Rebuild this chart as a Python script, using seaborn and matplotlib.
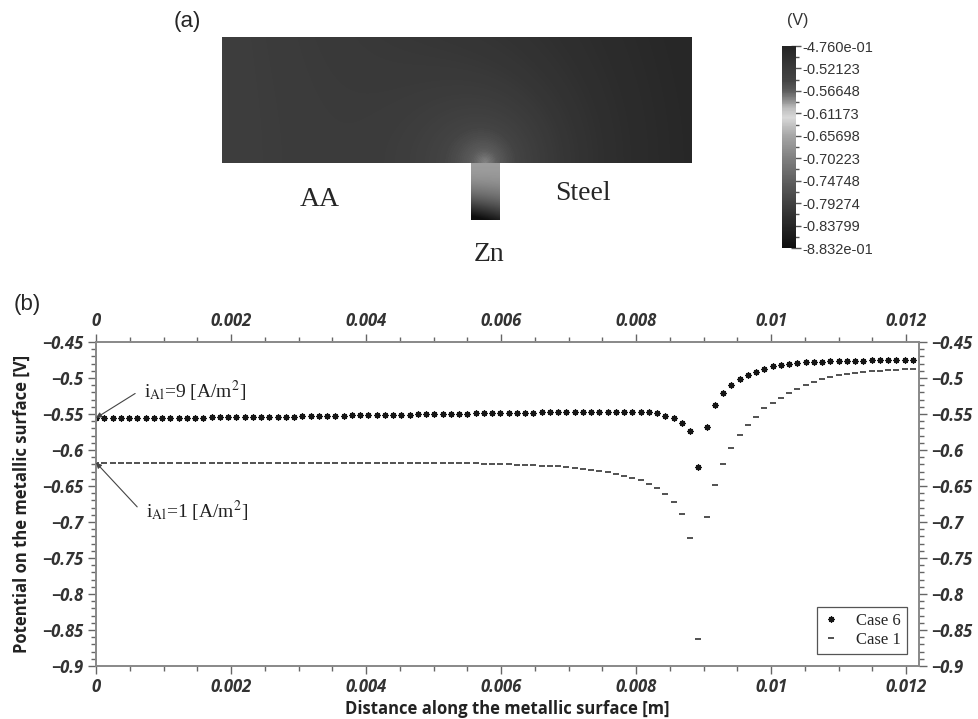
import numpy as np
import matplotlib
matplotlib.use("Agg")
import matplotlib.pyplot as plt
import seaborn as sns
from matplotlib.colors import LinearSegmentedColormap, Normalize
from matplotlib.cm import ScalarMappable
from matplotlib.ticker import MultipleLocator, FuncFormatter, FixedLocator
from matplotlib.font_manager import FontProperties

sns.set_theme(style="ticks", context="notebook")
plt.rcParams["font.family"] = ["Liberation Sans", "DejaVu Sans"]
plt.rcParams["mathtext.fontset"] = "stix"

# ---------------- data ----------------
# surface nodes along the metallic surface (uniform mesh, 100 nodes)
n_nodes = 100
surface_length = 0.0121
distance = np.linspace(0.0, surface_length, n_nodes)

# Case 6: i_Al = 9 A/m2
case6 = [
    -0.5555, -0.5555, -0.5555, -0.5555, -0.5555, -0.5555, -0.5555, -0.555, -0.555, -0.555,
    -0.555, -0.555, -0.555, -0.555, -0.5545, -0.5545, -0.5545, -0.5545, -0.554, -0.554,
    -0.554, -0.554, -0.5535, -0.5535, -0.5535, -0.553, -0.553, -0.553, -0.5525, -0.5525,
    -0.5525, -0.552, -0.552, -0.552, -0.5515, -0.5515, -0.551, -0.551, -0.551, -0.5505,
    -0.5505, -0.550, -0.550, -0.550, -0.5495, -0.5495, -0.549, -0.549, -0.549, -0.5485,
    -0.5485, -0.548, -0.548, -0.548, -0.5475, -0.5475, -0.5475, -0.547, -0.547, -0.547,
    -0.547, -0.547, -0.547, -0.547, -0.547, -0.547, -0.547, -0.5475, -0.549, -0.5525,
    -0.556, -0.5625, -0.574, -0.623, -0.568, -0.5375, -0.521, -0.510, -0.501, -0.496,
    -0.491, -0.487, -0.484, -0.4815, -0.480, -0.4785, -0.478, -0.4775, -0.4772, -0.477,
    -0.4765, -0.4762, -0.476, -0.476, -0.4755, -0.4752, -0.475, -0.475, -0.475, -0.475,
]

# Case 1: i_Al = 1 A/m2
case1 = [
    -0.6175, -0.6175, -0.6175, -0.6175, -0.6175, -0.6175, -0.6175, -0.6175, -0.6175, -0.6175,
    -0.6175, -0.6175, -0.6175, -0.6175, -0.6175, -0.6175, -0.6175, -0.6175, -0.6175, -0.6175,
    -0.6175, -0.6175, -0.6175, -0.6175, -0.6175, -0.6175, -0.6175, -0.6175, -0.6175, -0.6175,
    -0.6175, -0.6175, -0.6175, -0.6175, -0.6175, -0.6175, -0.6175, -0.6175, -0.6175, -0.6175,
    -0.6175, -0.6175, -0.6178, -0.618, -0.618, -0.6183, -0.6186, -0.619, -0.619, -0.6195,
    -0.620, -0.6205, -0.621, -0.6215, -0.622, -0.6225, -0.6228, -0.6235, -0.6245, -0.626,
    -0.6275, -0.629, -0.631, -0.633, -0.636, -0.639, -0.642, -0.647, -0.653, -0.661,
    -0.672, -0.689, -0.722, -0.8625, -0.693, -0.649, -0.619, -0.597, -0.579, -0.565,
    -0.554, -0.542, -0.535, -0.528, -0.521, -0.515, -0.510, -0.5055, -0.501, -0.498,
    -0.496, -0.4945, -0.493, -0.4915, -0.490, -0.4898, -0.4893, -0.4884, -0.488, -0.4875,
]

series_labels = ["Case 6", "Case 1"]

# colour bar of the potential field
v_top, v_bottom = -0.476, -0.8832
cbar_ticks = [-0.476, -0.52123, -0.56648, -0.61173, -0.65698,
              -0.70223, -0.74748, -0.79274, -0.83799, -0.8832]
cbar_labels = ["-4.760e-01", "-0.52123", "-0.56648", "-0.61173", "-0.65698",
               "-0.70223", "-0.74748", "-0.79274", "-0.83799", "-8.832e-01"]

# ---------------- figure ----------------
W, H = 979, 719
fig = plt.figure(figsize=(W / 100, H / 100), dpi=100)
fig.patch.set_facecolor("white")


def box(x0, y0, x1, y1):
    """pixel box (top-left origin) -> figure fraction rect"""
    return [x0 / W, 1 - y1 / H, (x1 - x0) / W, (y1 - y0) / H]


# grayscale map: dark at both ends, bright in the mid range
cmap_nodes = [(-0.8832, "#0e0e0e"), (-0.838, "#262626"), (-0.793, "#414141"),
              (-0.747, "#606060"), (-0.702, "#808080"), (-0.657, "#a6a6a6"),
              (-0.620, "#d8d8d8"), (-0.600, "#bcbcbc"), (-0.585, "#8c8c8c"),
              (-0.566, "#5c5c5c"), (-0.545, "#444444"), (-0.521, "#3a3a3a"),
              (-0.476, "#242424")]
cmap = LinearSegmentedColormap.from_list(
    "potential",
    [((v - v_bottom) / (v_top - v_bottom), c) for v, c in cmap_nodes])
norm = Normalize(vmin=v_bottom, vmax=v_top)

# ---- panel (a): electrolyte domain with the Zn strip below ----
dom_w = 470.0
rect_h = 126 / dom_w          # domain height relative to its width
stem_x0, stem_x1 = 249 / dom_w, 278 / dom_w
stem_d = 57 / dom_w
ax_a = fig.add_axes(box(222, 37, 692, 220))
ax_a.set_xlim(0, 1)
ax_a.set_ylim(rect_h + stem_d, 0)
ax_a.axis("off")

xs = np.linspace(0, 1, 470)
ys = np.linspace(0, rect_h, 126)
XX, YY = np.meshgrid(xs, ys)
xc = 0.5 * (stem_x0 + stem_x1)
r = np.hypot(XX - xc, rect_h - YY)
field = (-0.479 - 0.05 * (1 - XX) ** 1.3
         - 0.066 * np.exp(-r / 0.11) - 0.02 * np.exp(-r / 0.3))
ax_a.imshow(field, cmap=cmap, norm=norm, extent=(0, 1, rect_h, 0),
            aspect="auto", interpolation="bilinear")

sx = np.linspace(stem_x0, stem_x1, 30)
sy = np.linspace(0, 1, 60)
SX, SY = np.meshgrid(sx, sy)
tilt = (stem_x1 - SX) / (stem_x1 - stem_x0)
stem_field = -0.668 - 0.215 * np.clip(SY ** 2.2 * (0.85 + 0.3 * tilt), 0, 1)
ax_a.imshow(stem_field, cmap=cmap, norm=norm,
            extent=(stem_x0, stem_x1, rect_h + stem_d, rect_h),
            aspect="auto", interpolation="bilinear")

fig.text(187 / W, 1 - 22 / H, "(a)", fontsize=16, ha="center", va="center",
         family=["Liberation Sans"])
serif = ["Liberation Serif", "DejaVu Serif"]
fig.text(320 / W, 1 - 199 / H, "AA", fontsize=20, ha="center", va="center", family=serif)
fig.text(583 / W, 1 - 194 / H, "Steel", fontsize=20, ha="center", va="center", family=serif)
fig.text(489 / W, 1 - 255 / H, "Zn", fontsize=20, ha="center", va="center", family=serif)

# colour bar
cax = fig.add_axes(box(782, 46, 796, 248))
cb = fig.colorbar(ScalarMappable(norm=norm, cmap=cmap), cax=cax)
cb.outline.set_visible(False)
cb.set_ticks(cbar_ticks)
cb.set_ticklabels(cbar_labels)
mids = [(a + b) / 2 for a, b in zip(cbar_ticks[:-1], cbar_ticks[1:])]
cax.yaxis.set_minor_locator(FixedLocator(mids))
cax.tick_params(which="major", direction="inout", length=7, width=1, color="#555",
                labelsize=10.5, labelcolor="#333", pad=1)
cax.tick_params(which="minor", direction="inout", length=5, width=1, color="#555")
fig.text(798 / W, 1 - 20 / H, "(V)", fontsize=11.5, ha="center", va="center", color="#333")

# ---- panel (b): potential along the metallic surface ----
ax = fig.add_axes(box(96, 342, 919, 666))
ax.set_facecolor("white")
sns.lineplot(x=distance, y=case6, ax=ax, color="black", linestyle="none",
             marker=(8, 2, 0), markersize=4.4, markeredgewidth=0.95,
             markeredgecolor="#151515", estimator=None, label=series_labels[0])
sns.lineplot(x=distance, y=case1, ax=ax, color="black", linestyle="none",
             marker="_", markersize=4.6, markeredgewidth=1.1,
             markeredgecolor="#222", estimator=None, label=series_labels[1])

ax.set_xlim(0, 0.01219)
ax.set_ylim(-0.9, -0.45)
ax.xaxis.set_major_locator(MultipleLocator(0.002))
ax.xaxis.set_minor_locator(MultipleLocator(0.0005))
ax.yaxis.set_major_locator(MultipleLocator(0.05))
ax.yaxis.set_minor_locator(MultipleLocator(0.01))
ax.xaxis.set_major_formatter(FuncFormatter(lambda v, p: f"{round(v, 6):g}"))
ax.yaxis.set_major_formatter(FuncFormatter(lambda v, p: f"{round(v, 4):g}".replace("-", "\u2212")))

ax.tick_params(which="both", direction="out", top=True, right=True,
               labeltop=True, labelright=True, color="#666", width=1,
               labelcolor="#333")
ax.tick_params(which="major", length=6, pad=3)
ax.tick_params(which="minor", length=3.5)

tick_fp = FontProperties(family=["Open Sans", "DejaVu Sans"], style="italic",
                         weight="bold", size=12)
for t in ax.xaxis.get_major_ticks() + ax.yaxis.get_major_ticks():
    t.label1.set_fontproperties(tick_fp)
    t.label2.set_fontproperties(tick_fp)

for s in ax.spines.values():
    s.set_color("#888")
    s.set_linewidth(1.4)

label_fp = dict(family=["Open Sans", "DejaVu Sans"], weight="bold", size=12, color="#222")
ax.set_xlabel("Distance along the metallic surface [m]", **label_fp)
ax.set_ylabel("Potential on the metallic surface [V]", **label_fp)
ax.xaxis.set_label_coords(0.5, -0.105)
ax.yaxis.set_label_coords(-0.079, 0.5)

# current density annotations
arrow = dict(arrowstyle="-|>", color="#444", lw=0.8, shrinkA=0, shrinkB=0, mutation_scale=8)
ax.annotate("", xy=(distance[0], case6[0]), xytext=(0.00058, -0.5215), arrowprops=arrow)
ax.text(0.00071, -0.5185, r"i$_{\mathrm{Al}}$=9 [A/m$^{2}$]", family=serif, fontsize=14,
        va="center", ha="left", color="#222")
ax.annotate("", xy=(distance[0], case1[0]), xytext=(0.00061, -0.679), arrowprops=arrow)
ax.text(0.00074, -0.6855, r"i$_{\mathrm{Al}}$=1 [A/m$^{2}$]", family=serif, fontsize=14,
        va="center", ha="left", color="#222")

leg = ax.legend(loc="lower right", bbox_to_anchor=(0.9854, 0.037), borderaxespad=0,
                frameon=True, fancybox=False, edgecolor="#555", framealpha=1,
                prop=dict(family=serif, size=12), handlelength=1.0,
                handletextpad=1.0, borderpad=0.35, labelspacing=0.2)
leg.get_frame().set_linewidth(0.9)

fig.text(27 / W, 1 - 305 / H, "(b)", fontsize=16, ha="center", va="center",
         family=["Liberation Sans"])

fig.savefig("out.png", dpi=100)
